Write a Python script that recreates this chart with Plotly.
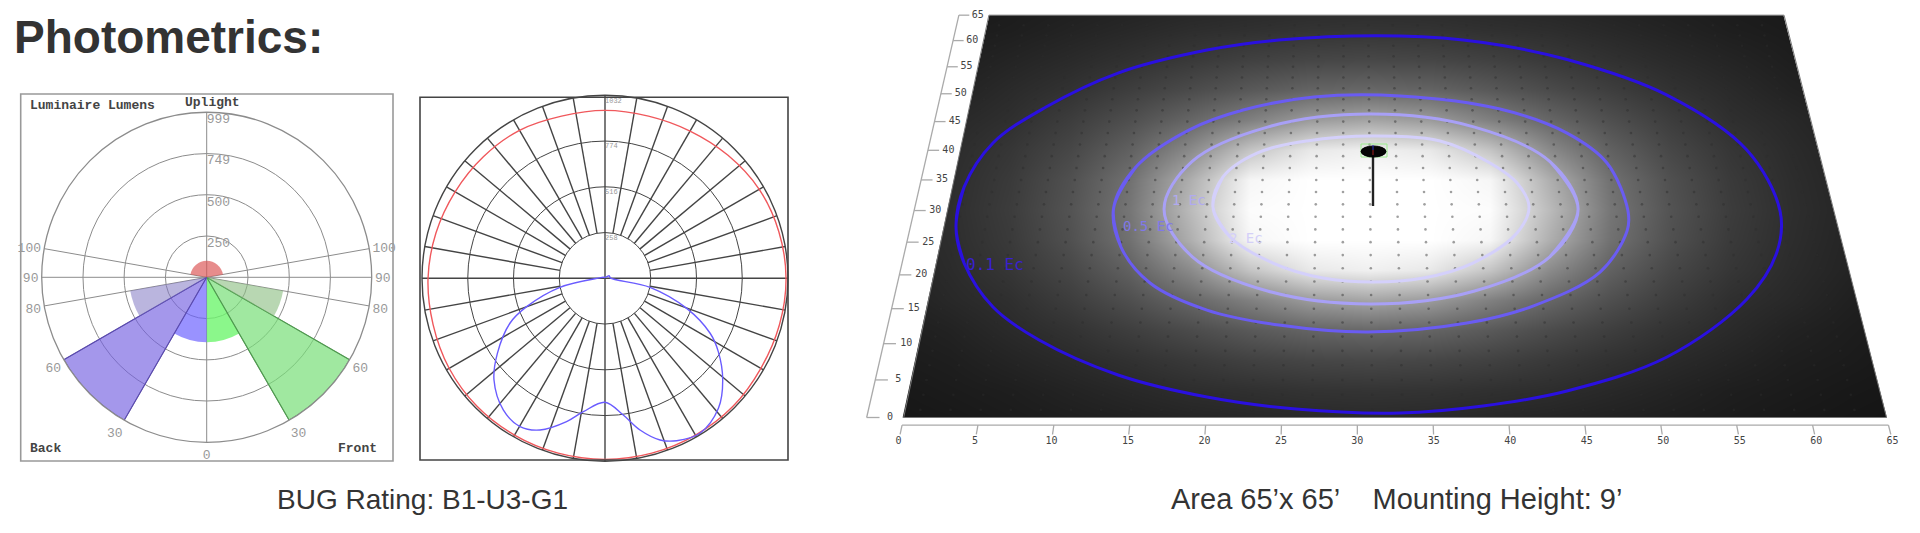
import plotly.graph_objects as go

# ---------- BUG chart ----------
BUG_TICK_ANGLES = [0, 30, 60, 80, 90, 100, 180, 260, 270, 280, 300, 330]
BUG_TICK_TEXT = ["0", "30", "60", "80", "90", "100", "", "100", "90", "80", "60", "30"]
BUG_RINGS = [250, 500, 749, 999]
BUG_RING_LABELS = ["250", "500", "749", "999"]
BUG_RING_LABEL_R = [202, 454, 707, 956]
ZONE_THETA = [15, 45, 70, 345, 315, 290, 180]
ZONE_WIDTH = [30, 30, 20, 30, 30, 20, 160]
ZONE_LUMENS = [393, 999, 470, 393, 999, 470, 100]
ZONE_FILL = ["rgba(110,245,110,.80)", "rgba(120,222,120,.70)", "rgba(140,190,130,.62)",
             "rgba(105,95,255,.68)", "rgba(115,95,225,.65)", "rgba(130,120,195,.55)",
             "rgba(220,85,85,.68)"]
ZONE_EDGE = ["rgba(0,0,0,0)", "#4f9a4f", "rgba(0,0,0,0)", "rgba(0,0,0,0)", "#5a4ab0", "rgba(0,0,0,0)", "rgba(0,0,0,0)"]

# ---------- candela chart ----------
CANDELA_RINGS = [258, 516, 774, 1032]
CANDELA_LABELS = ["258", "516", "774", "1032"]
CANDELA_LABEL_R = [225, 483, 744, 998]
SPOKE_ANGLES = [10, 20, 30, 40, 50, 60, 70, 80, 100, 110, 120, 130, 140, 150, 160, 170,
                190, 200, 210, 220, 230, 240, 250, 260, 280, 290, 300, 310, 320, 330, 340, 350]
AXIS_ANGLES = [0, 90, 180, 270]
RED_THETA = [0, 15, 30, 45, 60, 75, 90, 105, 120, 135, 150, 165, 180, 195, 210, 225, 240, 255,
             270, 285, 300, 315, 330, 345, 360]
RED_CD = [1021, 1021, 1021, 1021, 1015, 1018, 1021, 1015, 1004, 981, 959, 947, 947, 947, 964,
          970, 976, 987, 998, 1004, 1015, 1021, 1021, 1021, 1021]
BLUE_THETA = [95, 78.7, 69.8, 62.4, 57.1, 49.2, 41.1, 31.5, 23.8, 18.8, 13, 7.6, 0, 350.8, 345,
              336.8, 330.2, 322.3, 312.5, 304.9, 295.3, 289.9, 281.3, 265, 240, 180, 120, 95]
BLUE_CD = [30, 259, 491, 669, 761, 877, 973, 1025, 1001, 963, 878, 778, 699, 762, 837,
           931, 964, 938, 849, 740, 593, 470, 259, 30, 12, 5, 28, 30]

# ---------- floor plot (all in feet) ----------
FLOOR_SIZE = 65
RULER_TICKS = list(range(0, 70, 5))
CALC_POINTS = list(range(1, 65, 2))
C01_U = [0.87, 1.98, 4.6, 8.17, 13.86, 19.97, 25.93, 32.83, 38.36, 44.05, 51.1, 57.34, 60.16,
         61.05, 59.58, 54.27, 46.81, 40.22, 33.56, 23.77, 18.07, 11.18, 5.94, 2.37, 0.86, 0.87]
C01_V = [27.37, 21.78, 15.24, 10.51, 5.67, 2.7, 1.11, 0.59, 1.51, 3.51, 8.14, 16.41, 23.47,
         29.91, 40.04, 49.75, 56.36, 59.62, 60.87, 60.1, 58.17, 53.82, 47.59, 41.25, 33.82, 27.37]
C05_U = [12.16, 13.04, 15.39, 19.55, 24.61, 30.76, 37.61, 42.29, 47.28, 49.62, 49.9, 48.85,
         46.11, 41.14, 33.42, 26.71, 21.24, 17.18, 13.45, 12.16]
C05_V = [30.4, 24.24, 18.78, 14.8, 12.64, 11.65, 12.93, 15.38, 20.42, 26.74, 29.91, 37.83,
         42.98, 47.23, 49.59, 49.4, 47.05, 43.5, 37.16, 30.4]
C1_U = [46.26, 43.84, 38.28, 30.99, 23.72, 18.21, 15.87, 17.62, 23.19, 31.15, 39.07, 44.57, 46.26]
C1_V = [30.24, 22.78, 17.59, 15.68, 17.59, 22.78, 30.24, 38.08, 44.03, 46.33, 44.03, 38.08, 30.24]
C2_U = [19.45, 20.03, 22.49, 26.25, 31.28, 36.37, 40.05, 41.95, 42.67, 41.62, 38.29, 34.7,
        31.14, 27.61, 24.02, 20.85, 19.45]
C2_V = [30.56, 35.48, 39.52, 41.6, 42.46, 41.6, 37.83, 34.48, 30.56, 26.43, 21.79, 19.52,
        18.92, 19.52, 21.79, 25.8, 30.56]
CONTOURS = [(C01_U, C01_V, "#2a10e0"), (C05_U, C05_V, "#6a5cf2"),
            (C1_U, C1_V, "#a8a0f6"), (C2_U, C2_V, "#d4d0fb")]
# grey level of the glow, read in picture space: centre outward
GLOW_X = [830, 890, 950, 1010, 1070, 1130, 1190, 1250, 1310, 1370, 1430, 1490, 1550, 1610,
          1670, 1730, 1790, 1850, 1910]
GLOW_Y = list(range(0, 450, 30))
GLOW_HALF = [
    [255, 255, 252, 186, 118, 83, 60, 46, 37, 30],
    [255, 255, 246, 174, 113, 80, 58, 45, 36, 29],
    [240, 232, 196, 138, 97, 71, 54, 43, 35, 28],
    [165, 155, 128, 102, 79, 61, 47, 40, 32, 27],
    [104, 100, 89, 75, 62, 50, 42, 34, 29, 25],
    [72, 70, 65, 57, 49, 42, 36, 30, 27, 23],
    [52, 51, 48, 45, 40, 35, 30, 27, 24, 22],
    [41, 40, 38, 36, 33, 30, 27, 24, 22, 20],
]
GLOW_ROW_ORDER = [7, 6, 5, 4, 3, 2, 1, 0, 1, 2, 3, 4, 5, 6, 7]
glow = [GLOW_HALF[i][:0:-1] + GLOW_HALF[i] for i in GLOW_ROW_ORDER]

PERSPECTIVE = 0.00363


def project(u, v):
    d = 1 + PERSPECTIVE * v
    return (903.7 + 15.12 * u + 4.9 * v) / d, 417.5 - 7.65 * (v / d)


def segs(pairs):
    xs, ys = [], []
    for a, b in pairs:
        xa, ya = project(*a)
        xb, yb = project(*b)
        xs += [xa, xb, None]
        ys += [ya, yb, None]
    return xs, ys


fig = go.Figure()
fig.add_trace(go.Heatmap(x=GLOW_X, y=GLOW_Y, z=glow, zmin=0, zmax=255, zsmooth="best", showscale=False,
                         colorscale=[[0, "#000"], [1, "#fff"]], hoverinfo="skip"))

# white masks outside the floor (the side masks follow the slanted floor edges)
c00, c10, c11, c01 = project(0, 0), project(FLOOR_SIZE, 0), project(FLOOR_SIZE, FLOOR_SIZE), project(0, FLOOR_SIZE)
masks = [
    ([780, c01[0] + (c01[0] - c00[0]) * 0.12, c00[0] - (c01[0] - c00[0]) * 0.12, 780, 780],
     [-30, -30, 460, 460, -30]),
    ([c11[0] - (c10[0] - c11[0]) * 0.12, 1960, 1960, c10[0] + (c10[0] - c11[0]) * 0.11, c11[0] - (c10[0] - c11[0]) * 0.12],
     [-30, -30, 460, 460, -30]),
    ([780, 1960, 1960, 780, 780], [-30, -30, c01[1], c01[1], -30]),
    ([780, 1960, 1960, 780, 780], [c00[1], c00[1], 460, 460, c00[1]]),
]
for mx, my in masks:
    fig.add_trace(go.Scatter(x=mx, y=my, mode="lines", fill="toself", fillcolor="#fff",
                             line=dict(width=0, color="#fff"), hoverinfo="skip", showlegend=False))

# calculation points
pts = [project(u, v) for v in CALC_POINTS for u in CALC_POINTS]
fig.add_trace(go.Scatter(x=[p[0] for p in pts], y=[p[1] for p in pts], mode="markers",
                         marker=dict(size=2.6, color="rgba(45,45,45,.45)"), hoverinfo="skip", showlegend=False))
# floor edge
edge = [c00, c10, c11, c01, c00]
fig.add_trace(go.Scatter(x=[p[0] for p in edge], y=[p[1] for p in edge], mode="lines",
                         line=dict(color="#777", width=1), hoverinfo="skip", showlegend=False))
# contours: the ring is overlapped by one point so that the spline has no cusp where it closes
for cu, cv, col in CONTOURS:
    p = [project(a, b) for a, b in zip(cu, cv)]
    p = [p[-2]] + p + [p[1]]
    fig.add_trace(go.Scatter(x=[q[0] for q in p], y=[q[1] for q in p], mode="lines",
                             line=dict(color=col, width=3, shape="spline", smoothing=1),
                             hoverinfo="skip", showlegend=False))

# rulers
RAIL = "#aaaaaa"
xs, ys = segs([((0, -1), (FLOOR_SIZE, -1))] + [((t, -1), (t, -2.2)) for t in RULER_TICKS])
fig.add_trace(go.Scatter(x=xs, y=ys, mode="lines", line=dict(color=RAIL, width=1.3), hoverinfo="skip", showlegend=False))
xs, ys = segs([((-2.45, 0), (-2.45, FLOOR_SIZE))] + [((-2.45, t), (-1.6, t)) for t in RULER_TICKS])
fig.add_trace(go.Scatter(x=xs, y=ys, mode="lines", line=dict(color=RAIL, width=1.3), hoverinfo="skip", showlegend=False))
lab = [project(t, -3.1) for t in RULER_TICKS]
fig.add_trace(go.Scatter(x=[p[0] for p in lab], y=[p[1] for p in lab], mode="text", text=[str(t) for t in RULER_TICKS],
                         textfont=dict(family="DejaVu Sans Mono", size=10, color="#444"), hoverinfo="skip", showlegend=False))
lab = [project(-0.9, t) for t in RULER_TICKS]
fig.add_trace(go.Scatter(x=[p[0] for p in lab], y=[p[1] for p in lab], mode="text", text=[str(t) for t in RULER_TICKS],
                         textfont=dict(family="DejaVu Sans Mono", size=10, color="#444"), hoverinfo="skip", showlegend=False))

# BUG polar
fig.add_trace(go.Barpolar(theta=ZONE_THETA, r=ZONE_LUMENS, width=ZONE_WIDTH, marker=dict(color=ZONE_FILL, line=dict(color=ZONE_EDGE, width=1.2)),
                          subplot="polar", hoverinfo="skip", showlegend=False))
fig.add_trace(go.Scatterpolar(theta=[180] * 4, r=BUG_RING_LABEL_R, text=BUG_RING_LABELS, mode="text", textposition="middle right",
                              textfont=dict(family="Liberation Mono", size=13, color="#999"), subplot="polar", hoverinfo="skip", showlegend=False))

# candela polar
st, sr = [], []
for a in SPOKE_ANGLES:
    st += [a, a, None]
    sr += [258, 1032, None]
for a in AXIS_ANGLES:
    st += [a, a, None]
    sr += [0, 1032, None]
fig.add_trace(go.Scatterpolar(theta=st, r=sr, mode="lines", line=dict(color="#444", width=1.4), subplot="polar2", hoverinfo="skip", showlegend=False))
fig.add_trace(go.Scatterpolar(theta=RED_THETA, r=RED_CD, mode="lines", line=dict(color="#f0585c", width=1.4, shape="spline"), subplot="polar2", hoverinfo="skip", showlegend=False))
fig.add_trace(go.Scatterpolar(theta=BLUE_THETA, r=BLUE_CD, mode="lines", line=dict(color="#6a5cff", width=1.4, shape="spline"), subplot="polar2", hoverinfo="skip", showlegend=False))
fig.add_trace(go.Scatterpolar(theta=[180] * 4, r=CANDELA_LABEL_R, text=CANDELA_LABELS, mode="text", textposition="middle right",
                              textfont=dict(family="Liberation Mono", size=7, color="#999"), subplot="polar2", hoverinfo="skip", showlegend=False))

W, H = 1920, 533
MONO = "Liberation Mono"
SANS = "Liberation Sans"


def note(x, y, text, size, color, family=SANS, bold=False, anchor="left"):
    return dict(x=x, y=y, xref="x", yref="y", text=f"<b>{text}</b>" if bold else text, showarrow=False,
                xanchor=anchor, yanchor="middle", font=dict(family=family, size=size, color=color))


fig.update_layout(
    width=W, height=H, margin=dict(l=0, r=0, t=0, b=0), paper_bgcolor="#fff", plot_bgcolor="#fff", showlegend=False,
    xaxis=dict(range=[0, W], domain=[0, 1], visible=False, fixedrange=True),
    yaxis=dict(range=[H, 0], domain=[0, 1], visible=False, fixedrange=True),
    polar=dict(
        domain=dict(x=[41.7 / W, 371.7 / W], y=[(H - 442.3) / H, (H - 112.3) / H]), bgcolor="rgba(0,0,0,0)",
        radialaxis=dict(range=[0, 999], tickvals=BUG_RINGS, showticklabels=False, ticks="", showline=False,
                        gridcolor="#8c8c8c", gridwidth=1.3, angle=180),
        angularaxis=dict(rotation=-90, direction="counterclockwise", tickmode="array", tickvals=BUG_TICK_ANGLES,
                         ticktext=BUG_TICK_TEXT, ticks="", gridcolor="#8c8c8c", gridwidth=1.3, showline=True,
                         linecolor="#8c8c8c", linewidth=1.3, tickfont=dict(family=MONO, size=13, color="#999")),
    ),
    polar2=dict(
        domain=dict(x=[422 / W, 788 / W], y=[(H - 461.3) / H, (H - 95.3) / H]), bgcolor="rgba(0,0,0,0)",
        radialaxis=dict(range=[0, 1032], tickvals=CANDELA_RINGS, showticklabels=False, ticks="", showline=False,
                        gridcolor="#444", gridwidth=1.4, angle=180),
        angularaxis=dict(rotation=-90, direction="counterclockwise", showticklabels=False, ticks="", showgrid=False,
                         showline=True, linecolor="#444", linewidth=1.4),
    ),
    shapes=[
        dict(type="rect", xref="x", yref="y", x0=20.7, x1=393, y0=94, y1=461, line=dict(color="#999", width=1.6)),
        dict(type="rect", xref="x", yref="y", x0=420, x1=788, y0=97.3, y1=460, line=dict(color="#444", width=1.6)),
        dict(type="rect", xref="x", yref="y", x0=1361, x1=1387, y0=144, y1=157, line=dict(color="#9bee8e", width=1)),
        dict(type="line", xref="x", yref="y", x0=1373, x1=1373, y0=151, y1=206, line=dict(color="#222", width=2.4)),
        dict(type="circle", xref="x", yref="y", x0=1361, x1=1386, y0=146, y1=157, fillcolor="#050505", line=dict(color="#000", width=1)),
        dict(type="line", xref="x", yref="y", x0=1373, x1=1373, y0=145, y1=150, line=dict(color="#3030c0", width=1)),
        dict(type="line", xref="x", yref="y", x0=1373, x1=1373, y0=150, y1=155, line=dict(color="#a02020", width=1)),
    ],
    annotations=[
        note(12, 37, "Photometrics:", 46, "#333", bold=True),
        note(422, 499, "BUG Rating: B1-U3-G1", 28, "#333", anchor="center"),
        note(1396, 499, "Area 65’x 65’&nbsp;&nbsp;&nbsp;&nbsp;Mounting Height: 9’", 29, "#333", anchor="center"),
        note(28, 105, "Luminaire Lumens", 13, "#444", MONO, True),
        note(212, 102, "Uplight", 13, "#444", MONO, True, "center"),
        note(28, 448, "Back", 13, "#444", MONO, True),
        note(357, 448, "Front", 13, "#444", MONO, True, "center"),
        note(995, 264, "0.1 Ec", 16, "#3a20d0", "DejaVu Sans Mono", False, "center"),
        note(1148, 226, "0.5 Ec", 14, "#8078e8", "DejaVu Sans Mono", False, "center"),
        note(1189, 200, "1 Ec", 14, "#b0aaf0", "DejaVu Sans Mono", False, "center"),
        note(1246, 238, "2 Ec", 14, "#d4d0f8", "DejaVu Sans Mono", False, "center"),
    ],
)
fig.write_html("out.html", config={"displayModeBar": False},
               post_script="document.body.style.margin='0';document.documentElement.style.overflow='hidden';")
